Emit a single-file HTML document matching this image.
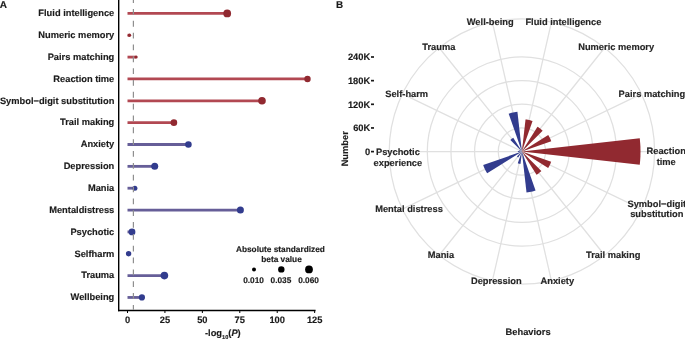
<!DOCTYPE html>
<html><head><meta charset="utf-8"><style>
html,body{margin:0;padding:0;background:#fff;width:685px;height:339px;overflow:hidden}
svg{display:block;will-change:transform}
text{font-family:"Liberation Sans",sans-serif;font-weight:bold;text-rendering:geometricPrecision;stroke:#222;stroke-width:0.15px}
</style></head><body>
<svg width="685" height="339" viewBox="0 0 685 339">
<text x="-0.2" y="7.9" font-size="10.0" fill="#1a1a1a">A</text>
<text x="114.3" y="16.20" text-anchor="end" font-size="9.3" fill="#1a1a1a">Fluid intelligence</text>
<text x="114.3" y="38.05" text-anchor="end" font-size="9.3" fill="#1a1a1a">Numeric memory</text>
<text x="114.3" y="59.90" text-anchor="end" font-size="9.3" fill="#1a1a1a">Pairs matching</text>
<text x="114.3" y="81.75" text-anchor="end" font-size="9.3" fill="#1a1a1a">Reaction time</text>
<text x="114.3" y="103.60" text-anchor="end" font-size="9.3" fill="#1a1a1a">Symbol−digit substitution</text>
<text x="114.3" y="125.45" text-anchor="end" font-size="9.3" fill="#1a1a1a">Trail making</text>
<text x="114.3" y="147.30" text-anchor="end" font-size="9.3" fill="#1a1a1a">Anxiety</text>
<text x="114.3" y="169.15" text-anchor="end" font-size="9.3" fill="#1a1a1a">Depression</text>
<text x="114.3" y="191.00" text-anchor="end" font-size="9.3" fill="#1a1a1a">Mania</text>
<text x="114.3" y="212.85" text-anchor="end" font-size="9.3" fill="#1a1a1a">Mentaldistress</text>
<text x="114.3" y="234.70" text-anchor="end" font-size="9.3" fill="#1a1a1a">Psychotic</text>
<text x="114.3" y="256.55" text-anchor="end" font-size="9.3" fill="#1a1a1a">Selfharm</text>
<text x="114.3" y="278.40" text-anchor="end" font-size="9.3" fill="#1a1a1a">Trauma</text>
<text x="114.3" y="300.25" text-anchor="end" font-size="9.3" fill="#1a1a1a">Wellbeing</text>
<line x1="127.5" y1="13.40" x2="227.2" y2="13.40" stroke="rgb(178,72,82)" stroke-width="2.8"/>
<circle cx="227.2" cy="13.40" r="3.9" fill="#912930"/>
<line x1="127.5" y1="35.25" x2="129.5" y2="35.25" stroke="rgb(178,72,82)" stroke-width="2.8"/>
<circle cx="129.5" cy="35.25" r="1.7" fill="#912930"/>
<line x1="127.5" y1="57.10" x2="136.2" y2="57.10" stroke="rgb(178,72,82)" stroke-width="2.8"/>
<circle cx="136.2" cy="57.10" r="1.5" fill="#912930"/>
<line x1="127.5" y1="78.95" x2="307.5" y2="78.95" stroke="rgb(178,72,82)" stroke-width="2.8"/>
<circle cx="307.5" cy="78.95" r="3.2" fill="#912930"/>
<line x1="127.5" y1="100.80" x2="262.0" y2="100.80" stroke="rgb(178,72,82)" stroke-width="2.8"/>
<circle cx="262.0" cy="100.80" r="3.8" fill="#912930"/>
<line x1="127.5" y1="122.65" x2="173.9" y2="122.65" stroke="rgb(178,72,82)" stroke-width="2.8"/>
<circle cx="173.9" cy="122.65" r="3.3" fill="#912930"/>
<line x1="127.5" y1="144.50" x2="188.4" y2="144.50" stroke="rgb(102,94,152)" stroke-width="2.8"/>
<circle cx="188.4" cy="144.50" r="3.3" fill="#323C8E"/>
<line x1="127.5" y1="166.35" x2="154.7" y2="166.35" stroke="rgb(102,94,152)" stroke-width="2.8"/>
<circle cx="154.7" cy="166.35" r="3.5" fill="#323C8E"/>
<line x1="127.5" y1="188.20" x2="134.9" y2="188.20" stroke="rgb(102,94,152)" stroke-width="2.8"/>
<circle cx="134.9" cy="188.20" r="2.5" fill="#323C8E"/>
<line x1="127.5" y1="210.05" x2="240.4" y2="210.05" stroke="rgb(102,94,152)" stroke-width="2.8"/>
<circle cx="240.4" cy="210.05" r="3.5" fill="#323C8E"/>
<line x1="127.5" y1="231.90" x2="132.0" y2="231.90" stroke="rgb(102,94,152)" stroke-width="2.8"/>
<circle cx="132.0" cy="231.90" r="3.4" fill="#323C8E"/>
<line x1="127.5" y1="253.75" x2="128.6" y2="253.75" stroke="rgb(102,94,152)" stroke-width="2.8"/>
<circle cx="128.6" cy="253.75" r="2.7" fill="#323C8E"/>
<line x1="127.5" y1="275.60" x2="164.4" y2="275.60" stroke="rgb(102,94,152)" stroke-width="2.8"/>
<circle cx="164.4" cy="275.60" r="3.8" fill="#323C8E"/>
<line x1="127.5" y1="297.45" x2="141.9" y2="297.45" stroke="rgb(102,94,152)" stroke-width="2.8"/>
<circle cx="141.9" cy="297.45" r="3.1" fill="#323C8E"/>
<line x1="133.4" y1="-2.84" x2="133.4" y2="309.6" stroke="#8f8f8f" stroke-width="1.2" stroke-dasharray="5.8 6.037"/>
<line x1="118.7" y1="0" x2="118.7" y2="311.2" stroke="#000" stroke-width="1.4"/>
<line x1="118" y1="310.5" x2="315.6" y2="310.5" stroke="#000" stroke-width="1.4"/>
<line x1="127.50" y1="311" x2="127.50" y2="313" stroke="#000" stroke-width="1"/>
<text x="127.50" y="323.3" text-anchor="middle" font-size="9.3" fill="#1a1a1a">0</text>
<line x1="164.93" y1="311" x2="164.93" y2="313" stroke="#000" stroke-width="1"/>
<text x="164.93" y="323.3" text-anchor="middle" font-size="9.3" fill="#1a1a1a">25</text>
<line x1="202.36" y1="311" x2="202.36" y2="313" stroke="#000" stroke-width="1"/>
<text x="202.36" y="323.3" text-anchor="middle" font-size="9.3" fill="#1a1a1a">50</text>
<line x1="239.79" y1="311" x2="239.79" y2="313" stroke="#000" stroke-width="1"/>
<text x="239.79" y="323.3" text-anchor="middle" font-size="9.3" fill="#1a1a1a">75</text>
<line x1="277.22" y1="311" x2="277.22" y2="313" stroke="#000" stroke-width="1"/>
<text x="277.22" y="323.3" text-anchor="middle" font-size="9.3" fill="#1a1a1a">100</text>
<line x1="314.65" y1="311" x2="314.65" y2="313" stroke="#000" stroke-width="1"/>
<text x="314.65" y="323.3" text-anchor="middle" font-size="9.3" fill="#1a1a1a">125</text>
<text x="205" y="335.6" font-size="9.3" fill="#1a1a1a">-log<tspan font-size="5.6" dy="2.9">10</tspan><tspan dy="-2.9">(</tspan><tspan font-style="italic">P</tspan>)</text>
<text x="280.4" y="251.7" text-anchor="middle" font-size="8.3" fill="#1a1a1a">Absolute standardized</text>
<text x="281.5" y="261.5" text-anchor="middle" font-size="8.3" fill="#1a1a1a">beta value</text>
<circle cx="254" cy="269.4" r="2.0" fill="#000"/>
<text x="253.6" y="283.4" text-anchor="middle" font-size="8.3" fill="#1a1a1a">0.010</text>
<circle cx="281.3" cy="269.4" r="3.2" fill="#000"/>
<text x="280.90000000000003" y="283.4" text-anchor="middle" font-size="8.3" fill="#1a1a1a">0.035</text>
<circle cx="309" cy="269.4" r="3.9" fill="#000"/>
<text x="308.6" y="283.4" text-anchor="middle" font-size="8.3" fill="#1a1a1a">0.060</text>
<text x="335.9" y="7.8" font-size="9.9" fill="#1a1a1a">B</text>
<circle cx="521.9" cy="151.5" r="23.65" fill="none" stroke="#e0e0e0" stroke-width="1.25"/>
<circle cx="521.9" cy="151.5" r="47.30" fill="none" stroke="#e0e0e0" stroke-width="1.25"/>
<circle cx="521.9" cy="151.5" r="70.95" fill="none" stroke="#e0e0e0" stroke-width="1.25"/>
<circle cx="521.9" cy="151.5" r="94.60" fill="none" stroke="#e0e0e0" stroke-width="1.25"/>
<circle cx="521.9" cy="151.5" r="132.7" fill="none" stroke="#e0e0e0" stroke-width="1.25"/>
<line x1="521.9" y1="151.5" x2="551.43" y2="22.13" stroke="#e0e0e0" stroke-width="1.25"/>
<line x1="521.9" y1="151.5" x2="604.64" y2="47.75" stroke="#e0e0e0" stroke-width="1.25"/>
<line x1="521.9" y1="151.5" x2="641.46" y2="93.92" stroke="#e0e0e0" stroke-width="1.25"/>
<line x1="521.9" y1="151.5" x2="654.60" y2="151.50" stroke="#e0e0e0" stroke-width="1.25"/>
<line x1="521.9" y1="151.5" x2="641.46" y2="209.08" stroke="#e0e0e0" stroke-width="1.25"/>
<line x1="521.9" y1="151.5" x2="604.64" y2="255.25" stroke="#e0e0e0" stroke-width="1.25"/>
<line x1="521.9" y1="151.5" x2="551.43" y2="280.87" stroke="#e0e0e0" stroke-width="1.25"/>
<line x1="521.9" y1="151.5" x2="492.37" y2="280.87" stroke="#e0e0e0" stroke-width="1.25"/>
<line x1="521.9" y1="151.5" x2="439.16" y2="255.25" stroke="#e0e0e0" stroke-width="1.25"/>
<line x1="521.9" y1="151.5" x2="402.34" y2="209.08" stroke="#e0e0e0" stroke-width="1.25"/>
<line x1="521.9" y1="151.5" x2="389.20" y2="151.50" stroke="#e0e0e0" stroke-width="1.25"/>
<line x1="521.9" y1="151.5" x2="402.34" y2="93.92" stroke="#e0e0e0" stroke-width="1.25"/>
<line x1="521.9" y1="151.5" x2="439.16" y2="47.75" stroke="#e0e0e0" stroke-width="1.25"/>
<line x1="521.9" y1="151.5" x2="492.37" y2="22.13" stroke="#e0e0e0" stroke-width="1.25"/>
<path d="M521.90,151.50 L525.52,119.40 L526.71,119.56 L527.90,119.76 L529.09,120.01 L530.26,120.30 L531.42,120.63 L532.57,121.01Z" fill="#912930"/>
<path d="M521.90,151.50 L537.49,126.69 L538.41,127.29 L539.30,127.93 L540.17,128.59 L541.01,129.29 L541.83,130.02 L542.62,130.78Z" fill="#912930"/>
<path d="M521.90,151.50 L548.23,134.95 L548.83,135.95 L549.40,136.97 L549.92,138.01 L550.41,139.06 L550.85,140.14 L551.25,141.23Z" fill="#912930"/>
<path d="M521.90,151.50 L639.75,138.22 L640.17,142.64 L640.42,147.07 L640.50,151.50 L640.42,155.93 L640.17,160.36 L639.75,164.78Z" fill="#912930"/>
<path d="M521.90,151.50 L551.16,161.74 L550.76,162.83 L550.31,163.90 L549.83,164.95 L549.31,165.99 L548.75,167.00 L548.15,167.99Z" fill="#912930"/>
<path d="M521.90,151.50 L541.35,170.95 L540.60,171.66 L539.84,172.34 L539.05,173.00 L538.23,173.63 L537.39,174.22 L536.53,174.78Z" fill="#912930"/>
<path d="M521.90,151.50 L535.54,190.48 L534.07,190.97 L532.59,191.39 L531.09,191.76 L529.58,192.08 L528.06,192.34 L526.52,192.54Z" fill="#323C8E"/>
<path d="M521.90,151.50 L520.50,163.92 L520.04,163.86 L519.58,163.78 L519.12,163.69 L518.66,163.57 L518.22,163.44 L517.77,163.30Z" fill="#323C8E"/>
<path d="M521.90,151.50 L518.18,157.43 L517.96,157.28 L517.74,157.13 L517.54,156.97 L517.33,156.81 L517.14,156.63 L516.95,156.45Z" fill="#323C8E"/>
<path d="M521.90,151.50 L487.18,173.31 L486.39,172.00 L485.65,170.66 L484.96,169.29 L484.32,167.90 L483.73,166.48 L483.20,165.04Z" fill="#323C8E"/>
<path d="M521.90,151.50 L517.93,151.95 L517.91,151.80 L517.90,151.65 L517.90,151.50 L517.90,151.35 L517.91,151.20 L517.93,151.05Z" fill="#323C8E"/>
<path d="M521.90,151.50 L519.07,150.51 L519.11,150.40 L519.15,150.30 L519.20,150.20 L519.25,150.10 L519.30,150.00 L519.36,149.90Z" fill="#323C8E"/>
<path d="M521.90,151.50 L510.37,139.97 L510.81,139.55 L511.27,139.15 L511.74,138.76 L512.22,138.39 L512.72,138.03 L513.23,137.70Z" fill="#323C8E"/>
<path d="M521.90,151.50 L508.69,113.74 L510.11,113.28 L511.55,112.86 L513.00,112.50 L514.46,112.20 L515.94,111.95 L517.42,111.75Z" fill="#323C8E"/>
<text x="370.2" y="154.80" text-anchor="end" font-size="9.3" fill="#1a1a1a">0</text>
<line x1="371" y1="151.60" x2="374" y2="151.60" stroke="#1a1a1a" stroke-width="1.7"/>
<text x="370.2" y="131.15" text-anchor="end" font-size="9.3" fill="#1a1a1a">60K</text>
<line x1="371" y1="127.95" x2="374" y2="127.95" stroke="#1a1a1a" stroke-width="1.7"/>
<text x="370.2" y="107.50" text-anchor="end" font-size="9.3" fill="#1a1a1a">120K</text>
<line x1="371" y1="104.30" x2="374" y2="104.30" stroke="#1a1a1a" stroke-width="1.7"/>
<text x="370.2" y="83.85" text-anchor="end" font-size="9.3" fill="#1a1a1a">180K</text>
<line x1="371" y1="80.65" x2="374" y2="80.65" stroke="#1a1a1a" stroke-width="1.7"/>
<text x="370.2" y="60.20" text-anchor="end" font-size="9.3" fill="#1a1a1a">240K</text>
<line x1="371" y1="57.00" x2="374" y2="57.00" stroke="#1a1a1a" stroke-width="1.7"/>
<text transform="translate(348,148.8) rotate(-90)" text-anchor="middle" font-size="9.3" fill="#1a1a1a">Number</text>
<text x="528.1" y="335.1" text-anchor="middle" font-size="9.3" fill="#1a1a1a">Behaviors</text>
<text x="490.2" y="24.60" text-anchor="middle" font-size="9.3" fill="#262626">Well-being</text>
<text x="563.4" y="24.60" text-anchor="middle" font-size="9.3" fill="#262626">Fluid intelligence</text>
<text x="616.2" y="50.30" text-anchor="middle" font-size="9.3" fill="#262626">Numeric memory</text>
<text x="438.8" y="50.30" text-anchor="middle" font-size="9.3" fill="#262626">Trauma</text>
<text x="651.9" y="96.70" text-anchor="middle" font-size="9.3" fill="#262626">Pairs matching</text>
<text x="406.7" y="96.60" text-anchor="middle" font-size="9.3" fill="#262626">Self-harm</text>
<text x="666.2" y="153.90" text-anchor="middle" font-size="9.3" fill="#262626">Reaction</text>
<text x="666.2" y="164.80" text-anchor="middle" font-size="9.3" fill="#262626">time</text>
<text x="397.9" y="154.80" text-anchor="middle" font-size="9.3" fill="#262626">Psychotic</text>
<text x="397.9" y="165.70" text-anchor="middle" font-size="9.3" fill="#262626">experience</text>
<text x="656.8" y="206.50" text-anchor="middle" font-size="9.3" fill="#262626">Symbol−digit</text>
<text x="656.8" y="217.40" text-anchor="middle" font-size="9.3" fill="#262626">substitution</text>
<text x="409.0" y="212.10" text-anchor="middle" font-size="9.3" fill="#262626">Mental distress</text>
<text x="613.2" y="258.20" text-anchor="middle" font-size="9.3" fill="#262626">Trail making</text>
<text x="440.9" y="258.20" text-anchor="middle" font-size="9.3" fill="#262626">Mania</text>
<text x="496.3" y="284.20" text-anchor="middle" font-size="9.3" fill="#262626">Depression</text>
<text x="557.3" y="284.20" text-anchor="middle" font-size="9.3" fill="#262626">Anxiety</text>
</svg>
</body></html>
